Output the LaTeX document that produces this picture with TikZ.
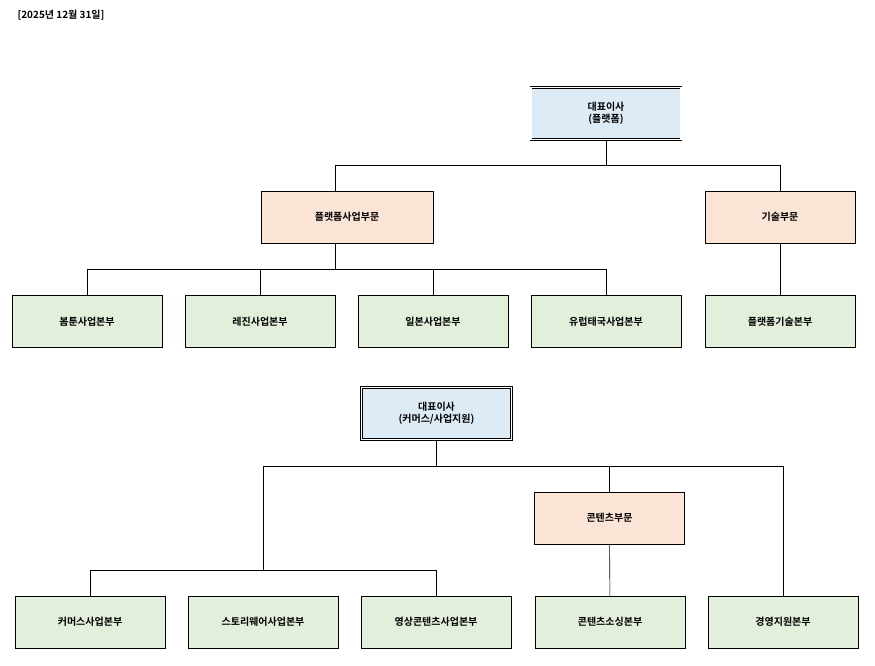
\documentclass[tikz,border=0pt]{standalone}
\usepackage{fontspec}
\setmainfont{Noto Sans CJK KR}[BoldFont={* Bold}]
\definecolor{ceoblue}{HTML}{DDEBF7}
\definecolor{divpeach}{HTML}{FCE4D6}
\definecolor{unitgreen}{HTML}{E2EFDA}
\tikzset{
  box/.style={draw, minimum width=150pt, minimum height=52pt, inner sep=0pt, font=\fontsize{10}{12}\selectfont\bfseries, align=center},
  ceo/.style={box, fill=ceoblue, double, double distance=1.5pt},
  div/.style={box, fill=divpeach},
  unit/.style={box, fill=unitgreen},
  link/.style={draw, line width=0.6pt}
}
\begin{document}
\begin{tikzpicture}[x=1pt, y=-1pt]
\useasboundingbox (0,0) rectangle (875,665);
\node[anchor=west, font=\fontsize{10}{12}\selectfont\bfseries] (date) at (14,15) {[2025년 12월 31일]};

\node[ceo] (CEO1) at (606,113.5) {대표이사\\(플랫폼)};
\node[div, minimum width=172pt] (PLAT) at (347,217) {플랫폼사업부문};
\node[div] (TECH) at (780,217) {기술부문};
\node[unit] (BOM) at (87,321.5) {봄툰사업본부};
\node[unit] (LEZ) at (260,321.5) {레진사업본부};
\node[unit] (JPN) at (433,321.5) {일본사업본부};
\node[unit] (EUR) at (606,321.5) {유럽태국사업본부};
\node[unit] (PTECH) at (780,321.5) {플랫폼기술본부};

\node[ceo] (CEO2) at (436.5,413.5) {대표이사\\(커머스/사업지원)};
\node[div] (CONT) at (609.5,518) {콘텐츠부문};
\node[unit] (COM) at (90,622) {커머스사업본부};
\node[unit] (STW) at (263,622) {스토리웨어사업본부};
\node[unit] (VID) at (436,622) {영상콘텐츠사업본부};
\node[unit] (SRC) at (610,622) {콘텐츠소싱본부};
\node[unit] (MGT) at (783,622) {경영지원본부};

\coordinate (J1) at (606,165);
\coordinate (J2) at (335,269);
\coordinate (J3) at (436.5,466);
\coordinate (J4) at (263,570);

\draw[link] (CEO1.south) -- (J1);
\draw[link] (J1) -| (335,191);
\draw[link] (J1) -| (TECH.north);
\draw[link] (TECH) -- (PTECH);
\draw[link] (335,243) -- (J2);
\foreach \u in {BOM,LEZ,JPN,EUR}
  \draw[link] (J2) -| (\u.north);

\draw[link] (CEO2.south) -- (J3);
\draw[link] (J3) -| (J4);
\draw[link] (J3) -| (CONT.north);
\draw[link] (J3) -| (MGT.north);
\draw[link] (CONT) -- (SRC);
\foreach \u in {COM,VID}
  \draw[link] (J4) -| (\u.north);
\end{tikzpicture}
\end{document}
